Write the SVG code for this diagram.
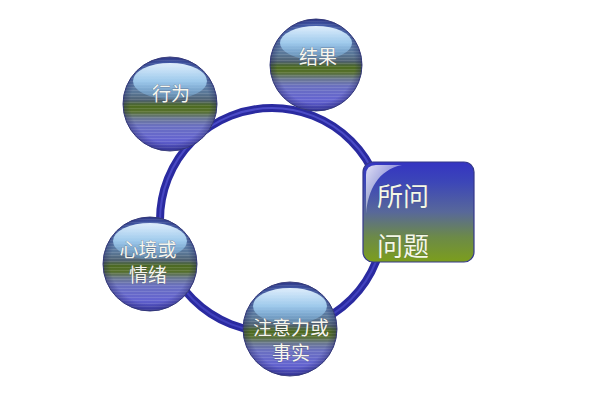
<svg xmlns="http://www.w3.org/2000/svg" width="600" height="400" viewBox="0 0 600 400">
<defs>
<linearGradient id="ballBase" x1="0" y1="0" x2="0" y2="1">
<stop offset="0" stop-color="#3848a0"/>
<stop offset="0.15" stop-color="#5a80c0"/>
<stop offset="0.38" stop-color="#5a7898"/>
<stop offset="0.46" stop-color="#4e6070"/>
<stop offset="0.52" stop-color="#4c6a20"/>
<stop offset="0.58" stop-color="#56702c"/>
<stop offset="0.65" stop-color="#6a7890"/>
<stop offset="0.73" stop-color="#6a70c0"/>
<stop offset="0.88" stop-color="#6464d0"/>
<stop offset="1" stop-color="#4040b0"/>
</linearGradient>
<radialGradient id="ballEdge" cx="0.5" cy="0.5" r="0.5">
<stop offset="0.84" stop-color="#1c1c60" stop-opacity="0"/>
<stop offset="1" stop-color="#1c1c60" stop-opacity="0.4"/>
</radialGradient>
<linearGradient id="gloss" x1="0" y1="0" x2="0" y2="1">
<stop offset="0" stop-color="#e6f4ff" stop-opacity="0.95"/>
<stop offset="0.5" stop-color="#a6d2f2" stop-opacity="0.9"/>
<stop offset="1" stop-color="#78b0e0" stop-opacity="0.35"/>
</linearGradient>
<pattern id="stripes" patternUnits="userSpaceOnUse" width="6" height="3">
<rect x="0" y="0" width="6" height="1" fill="#ffffff" fill-opacity="0.12"/>
</pattern>
<linearGradient id="boxGrad" x1="0" y1="0" x2="0" y2="1">
<stop offset="0" stop-color="#3434c2"/>
<stop offset="0.2" stop-color="#3c46b8"/>
<stop offset="0.5" stop-color="#58689a"/>
<stop offset="0.75" stop-color="#6c8a48"/>
<stop offset="1" stop-color="#7c9e1c"/>
</linearGradient>
<linearGradient id="boxHi" x1="0" y1="0" x2="1" y2="1">
<stop offset="0" stop-color="#ffffff" stop-opacity="0.85"/>
<stop offset="1" stop-color="#ffffff" stop-opacity="0"/>
</linearGradient>
<linearGradient id="ringHi" x1="0" y1="0" x2="0" y2="1">
<stop offset="0" stop-color="#5a5ad8"/>
<stop offset="1" stop-color="#4848c8"/>
</linearGradient>
</defs>
<style>
.ball{fill:url(#ballBase);stroke:#3a4080;stroke-width:1}
.edge{fill:url(#ballEdge)}
.str{fill:url(#stripes)}
.gl{fill:url(#gloss)}
.lbl{font-family:"Noto Sans CJK SC","Noto Sans",sans-serif;font-size:19px;fill:#f6f6ee;text-anchor:middle;stroke:#3a3a50;stroke-opacity:0.4;stroke-width:0.8;paint-order:stroke}
.blbl{font-family:"Noto Sans CJK SC","Noto Sans",sans-serif;font-size:26px;fill:#f4f8e6;stroke:#3a3a50;stroke-opacity:0.35;stroke-width:0.8;paint-order:stroke}
</style>
<rect width="600" height="400" fill="#ffffff"/>
<g id="connectors">
<circle cx="272" cy="220" r="112" fill="none" stroke="#2a2aa0" stroke-width="8"/>
<circle cx="272" cy="220" r="112" fill="none" stroke="url(#ringHi)" stroke-width="2" stroke-opacity="0.7"/>
</g>
<g id="node-xingwei">
<circle class="ball" cx="170" cy="104" r="47"/>
<circle class="str" cx="170" cy="104" r="47"/>
<circle class="edge" cx="170" cy="104" r="47"/>
<ellipse class="gl" cx="170" cy="81" rx="37" ry="18"/>
<text class="lbl" x="171" y="101">行为</text>
</g>
<g id="node-jieguo">
<circle class="ball" cx="316" cy="65" r="46"/>
<circle class="str" cx="316" cy="65" r="46"/>
<circle class="edge" cx="316" cy="65" r="46"/>
<ellipse class="gl" cx="316" cy="43" rx="36" ry="17"/>
<text class="lbl" x="318" y="64">结果</text>
</g>
<g id="node-xinjing">
<circle class="ball" cx="150" cy="264" r="47"/>
<circle class="str" cx="150" cy="264" r="47"/>
<circle class="edge" cx="150" cy="264" r="47"/>
<ellipse class="gl" cx="150" cy="241" rx="37" ry="18"/>
<text class="lbl" x="148" y="257">心境或</text>
<text class="lbl" x="148" y="282">情绪</text>
</g>
<g id="node-zhuyili">
<circle class="ball" cx="290" cy="329" r="47"/>
<circle class="str" cx="290" cy="329" r="47"/>
<circle class="edge" cx="290" cy="329" r="47"/>
<ellipse class="gl" cx="290" cy="306" rx="37" ry="18"/>
<text class="lbl" x="291" y="335">注意力或</text>
<text class="lbl" x="291" y="360">事实</text>
</g>
<g id="node-suowen">
<rect x="363" y="162" width="111" height="100" rx="10" fill="url(#boxGrad)" stroke="#34388a" stroke-width="1.2"/>
<path d="M366 214 C368 190 378 170 402 165 L376 165 Q366 165 366 175 Z" fill="url(#boxHi)"/>
<text class="blbl" x="377" y="206">所问</text>
<text class="blbl" x="377" y="256">问题</text>
</g>
</svg>
